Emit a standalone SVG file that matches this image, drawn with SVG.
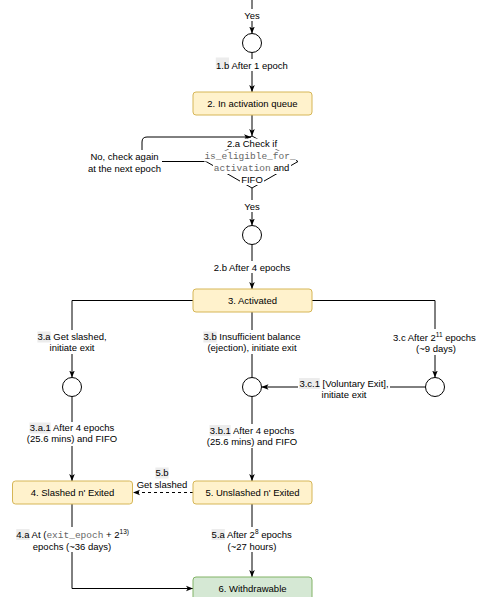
<svg xmlns="http://www.w3.org/2000/svg" width="487" height="597" viewBox="0 0 487 597">
<style>
text{font-family:"Liberation Sans",Arial,Helvetica,sans-serif;font-size:9.5px;fill:#000}
.m{text-anchor:middle}
.mono{font-family:"Liberation Mono","Courier New",monospace;fill:#666}
.sup{font-size:6.5px}
.ln{fill:none;stroke:#000;stroke-width:1}
.arr{marker-end:url(#ah)}
.dash{stroke-dasharray:3,3}
.bg{fill:#fff}
.hl{fill:#ececec}
.y{fill:#fff2cc;stroke:#d6b656;stroke-width:1}
.g{fill:#d5e8d4;stroke:#82b366;stroke-width:1}
.c{fill:#fff;stroke:#000;stroke-width:1}
</style>
<defs>
<marker id="ah" viewBox="0 0 8 8" refX="8" refY="4" markerWidth="7" markerHeight="7" markerUnits="userSpaceOnUse" orient="auto">
<path d="M0,0.8 L8,4 L0,7.2 L2,4 z" fill="#000"/>
</marker>
</defs>
<rect width="487" height="597" fill="#fff"/>

<g id="connectors">
<path class="ln arr" d="M252,0 V33.5"/>
<path class="ln arr" d="M252,52.5 V92"/>
<path class="ln arr" d="M252,115 V136"/>
<path class="ln arr" d="M206,161.5 H147 Q142,161.5 142,156.5 V142 Q142,137 147,137 H251"/>
<path class="ln arr" d="M252,188 V225.5"/>
<path class="ln arr" d="M252,244.5 V289"/>
<path class="ln arr" d="M193,300.5 H72 V377.5"/>
<path class="ln" d="M252,312 V377.5"/>
<path class="ln arr" d="M312,300.5 H435 V377.5"/>
<path class="ln arr" d="M425.5,387 H261.5"/>
<path class="ln arr" d="M72,396.5 V481"/>
<path class="ln arr" d="M252,396.5 V481"/>
<path class="ln arr dash" d="M193,492.5 H133"/>
<path class="ln arr" d="M72,504 V588.5 H193"/>
<path class="ln arr" d="M252,504 V577"/>
</g>

<g id="edge-labels">
<rect class="bg" x="243" y="9" width="18" height="12"/>
<text class="m" x="252" y="18.5">Yes</text>

<rect class="bg" x="214" y="59" width="76" height="12"/>
<rect class="hl" x="215.8" y="57.5" width="13.2" height="11"/>
<text class="m" x="252" y="68.5">1.b After 1 epoch</text>

<rect class="bg" x="87" y="150" width="75" height="24"/>
<text class="m" x="124.5" y="159.5">No, check again</text>
<text class="m" x="124.5" y="171.5">at the next epoch</text>

<rect class="bg" x="243" y="200" width="18" height="12"/>
<text class="m" x="252" y="209.5">Yes</text>

<rect class="bg" x="212" y="261" width="80" height="12"/>
<text class="m" x="252" y="270.5">2.b After 4 epochs</text>

<rect class="bg" x="36" y="330" width="72" height="24"/>
<rect class="hl" x="37.4" y="331.5" width="13.2" height="11"/>
<text class="m" x="72" y="340">3.a Get slashed,</text>
<text class="m" x="72" y="351">initiate exit</text>

<rect class="bg" x="202" y="330" width="100" height="24"/>
<rect class="hl" x="203.4" y="331.5" width="13.2" height="11"/>
<text class="m" x="252" y="340">3.b Insufficient balance</text>
<text class="m" x="252" y="351">(ejection), initiate exit</text>

<rect class="bg" x="391" y="329" width="90" height="26"/>
<text x="393" y="340.5">3.c After 2<tspan class="sup" dy="-4">11</tspan><tspan dy="4"> epochs</tspan></text>
<text class="m" x="436" y="352">(~9 days)</text>

<rect class="bg" x="298" y="377" width="92" height="23"/>
<rect class="hl" x="299.1" y="378" width="20.6" height="11"/>
<text class="m" x="344" y="386.5">3.c.1 [Voluntary Exit],</text>
<text class="m" x="344" y="397.5">initiate exit</text>

<rect class="bg" x="26" y="422" width="92" height="24"/>
<rect class="hl" x="29.5" y="422.5" width="21.1" height="11"/>
<text class="m" x="72" y="431">3.a.1 After 4 epochs</text>
<text class="m" x="72" y="442">(25.6 mins) and FIFO</text>

<rect class="bg" x="206" y="424" width="92" height="24"/>
<rect class="hl" x="209.5" y="425" width="21.1" height="11"/>
<text class="m" x="252" y="433.5">3.b.1 After 4 epochs</text>
<text class="m" x="252" y="444.5">(25.6 mins) and FIFO</text>

<rect class="bg" x="136" y="467" width="52" height="22"/>
<rect class="hl" x="155.4" y="467.5" width="13.2" height="11"/>
<text class="m" x="162" y="476">5.b</text>
<text class="m" x="162" y="487.5">Get slashed</text>

<rect class="bg" x="14" y="527" width="116" height="25"/>
<rect class="hl" x="16.3" y="529" width="13.2" height="11"/>
<text x="16.3" y="537.5">4.a At (<tspan class="mono">exit_epoch</tspan> + 2<tspan class="sup" dy="-4">13)</tspan></text>
<text class="m" x="72" y="549.5">epochs (~36 days)</text>

<rect class="bg" x="210" y="527" width="84" height="25"/>
<rect class="hl" x="211.6" y="529" width="13.2" height="11"/>
<text x="211.6" y="537.5">5.a After 2<tspan class="sup" dy="-4">8</tspan><tspan dy="4"> epochs</tspan></text>
<text class="m" x="252" y="549.5">(~27 hours)</text>
</g>

<g id="node-start-circle"><circle class="c" cx="252" cy="43" r="9.5"/></g>

<g id="node-activation-queue">
<rect class="y" x="193" y="92" width="119" height="23" rx="3"/>
<text class="m" x="252.5" y="107">2. In activation queue</text>
</g>

<g id="node-check">
<path class="ln" d="M252,136 L298,161.5 L252,188 L206,161.5 Z" fill="#fff"/>
<rect class="bg" x="226" y="138.5" width="52" height="11"/>
<rect class="bg" x="204" y="150.5" width="92" height="11"/>
<rect class="bg" x="213" y="163" width="78" height="11"/>
<rect class="bg" x="240" y="174" width="24" height="11"/>
<text class="m" x="252" y="147">2.a Check if</text>
<text class="m mono" x="250" y="159">is_eligible_for_</text>
<text class="m" x="251.5" y="171"><tspan class="mono">activation</tspan> and</text>
<text class="m" x="252" y="182.5">FIFO</text>
</g>

<g id="node-circle-2"><circle class="c" cx="252" cy="235" r="9.5"/></g>

<g id="node-activated">
<rect class="y" x="193" y="289" width="119" height="23" rx="3"/>
<text class="m" x="252.5" y="304">3. Activated</text>
</g>

<g id="node-circle-3a"><circle class="c" cx="72" cy="387" r="9.5"/></g>
<g id="node-circle-3b"><circle class="c" cx="252" cy="387" r="9.5"/></g>
<g id="node-circle-3c"><circle class="c" cx="435" cy="387" r="9.5"/></g>

<g id="node-slashed-exited">
<rect class="y" x="12.5" y="481" width="120" height="23" rx="3"/>
<text class="m" x="72.5" y="496">4. Slashed n' Exited</text>
</g>

<g id="node-unslashed-exited">
<rect class="y" x="193" y="481" width="119" height="23" rx="3"/>
<text class="m" x="252.5" y="496">5. Unslashed n' Exited</text>
</g>

<g id="node-withdrawable">
<rect class="g" x="193" y="577" width="119" height="26" rx="3"/>
<text class="m" x="252.5" y="592">6. Withdrawable</text>
</g>
</svg>
